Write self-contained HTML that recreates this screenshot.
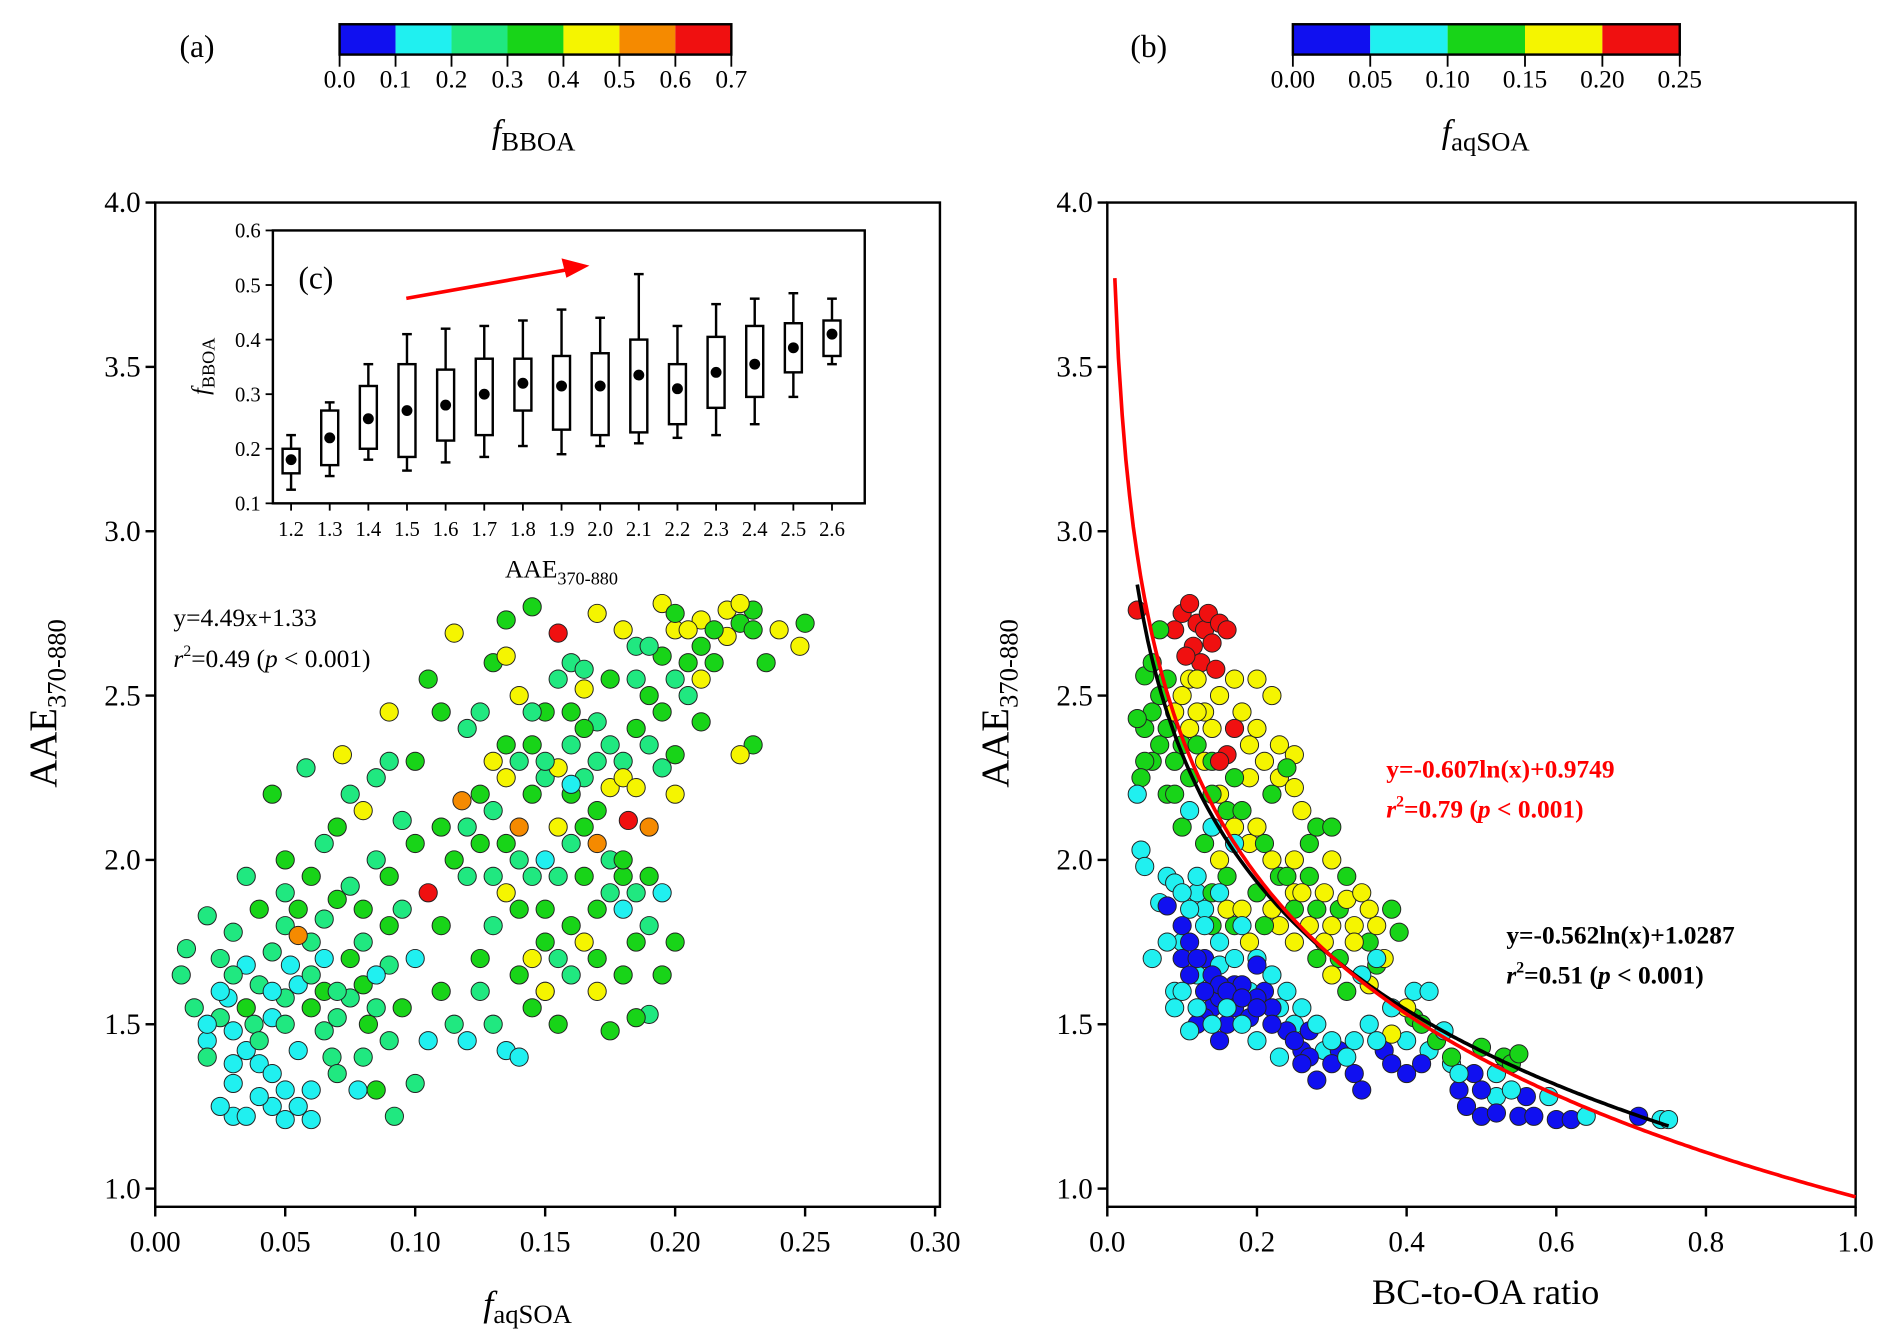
<!DOCTYPE html>
<html><head><meta charset="utf-8"><style>
html,body{margin:0;padding:0;background:#fff;overflow:hidden}
svg{display:block;font-family:"Liberation Serif",serif}
</style></head><body>
<svg id="fig" width="1892" height="1339" viewBox="0 0 1560 1104" preserveAspectRatio="none" xmlns="http://www.w3.org/2000/svg">
<g id="root"></g>
</svg>
<script>
// ---- data ----
const cbA_ticks = ["0.0","0.1","0.2","0.3","0.4","0.5","0.6","0.7"];
const cbA_colors = ["#1010f0","#20f0f0","#20e880","#18d418","#f5f500","#f58a00","#f01010"];
const cbB_ticks = ["0.00","0.05","0.10","0.15","0.20","0.25"];
const cbB_colors = ["#1010f0","#20f0f0","#18d418","#f5f500","#f01010"];
const leftX = [0.03,0.035,0.05,0.06,0.025,0.04,0.045,0.03,0.02,0.015,0.02,0.025,0.03,0.035,0.04,0.045,0.05,0.055,0.06,0.065,0.07,0.075,0.08,0.085,0.09,0.01,0.012,0.02,0.03,0.04,0.05,0.055,0.06,0.065,0.07,0.075,0.08,0.085,0.09,0.058,0.072,0.045,0.05,0.035,0.025,0.06,0.07,0.08,0.085,0.09,0.095,0.092,0.1,0.1,0.105,0.11,0.115,0.12,0.105,0.11,0.115,0.12,0.125,0.118,0.13,0.135,0.14,0.13,0.135,0.145,0.155,0.16,0.17,0.18,0.185,0.19,0.195,0.2,0.21,0.215,0.22,0.225,0.23,0.235,0.24,0.25,0.248,0.23,0.225,0.21,0.2,0.205,0.195,0.2,0.2,0.19,0.18,0.175,0.165,0.16,0.155,0.15,0.145,0.14,0.135,0.13,0.125,0.13,0.135,0.14,0.145,0.15,0.155,0.16,0.165,0.17,0.175,0.18,0.185,0.19,0.195,0.2,0.195,0.19,0.185,0.175,0.17,0.165,0.155,0.15,0.145,0.12,0.11,0.1,0.105,0.115,0.125,0.09,0.095,0.15,0.16,0.185,0.18,0.17,0.14,0.135,0.145,0.175,0.19,0.182,0.165,0.205,0.21];
const leftY = [1.22,1.22,1.21,1.21,1.25,1.28,1.35,1.38,1.4,1.55,1.5,1.6,1.65,1.55,1.45,1.6,1.5,1.42,1.55,1.48,1.6,1.7,1.75,1.65,1.8,1.65,1.73,1.83,1.78,1.85,1.9,1.77,1.95,2.05,2.1,2.2,2.15,2.25,2.3,2.28,2.32,2.2,2.0,1.95,1.7,1.3,1.35,1.4,1.3,1.45,1.55,1.22,1.32,1.7,1.9,1.6,1.5,1.45,1.45,1.8,2.0,2.1,2.2,2.18,2.3,2.35,2.5,2.6,2.73,2.77,2.69,2.6,2.75,2.7,2.55,2.5,2.78,2.75,2.73,2.7,2.76,2.78,2.7,2.6,2.7,2.72,2.65,2.35,2.32,2.42,2.55,2.6,2.45,2.32,2.2,2.1,2.25,2.35,2.4,2.2,2.1,2.3,2.2,2.0,1.9,1.8,1.7,1.5,1.42,1.4,1.55,1.6,1.7,1.8,1.95,2.05,1.9,1.85,1.75,1.8,1.9,1.75,1.65,1.53,1.52,1.48,1.6,1.75,1.5,1.6,1.7,2.4,2.45,2.3,2.55,2.69,2.45,2.45,2.12,2.0,2.23,2.22,2.0,2.15,2.1,2.62,2.45,2.55,2.65,2.12,2.58,2.7,2.55];
const leftC = [1,1,1,1,1,1,1,1,2,2,1,1,2,3,2,1,2,1,3,2,2,3,2,1,3,2,2,2,2,3,2,5,3,2,3,2,4,2,2,2,4,3,3,2,2,1,2,2,3,2,3,2,2,1,6,3,2,1,1,3,3,2,3,5,4,3,4,3,3,3,6,2,4,4,2,3,4,3,4,3,4,4,3,3,4,3,4,3,4,3,2,3,3,3,4,5,4,2,3,3,4,2,3,2,4,2,3,2,1,1,3,4,2,3,3,5,2,1,3,2,1,3,3,2,3,3,4,4,3,4,4,2,3,3,3,4,2,4,2,1,1,4,3,3,5,4,2,3,2,6,2,4,4];
const leftX2 = [0.02,0.025,0.03,0.035,0.04,0.045,0.05,0.055,0.06,0.065, 0.07,0.075,0.08,0.085,0.09,0.035,0.04,0.045,0.05,0.055, 0.06,0.065,0.07,0.075,0.08,0.085,0.09,0.095,0.1,0.065, 0.03,0.05,0.055,0.045,0.038,0.028,0.052,0.068,0.078,0.082, 0.12,0.125,0.13,0.135,0.14,0.145,0.15,0.155,0.16,0.165, 0.17,0.175,0.18,0.185,0.19,0.195,0.15,0.155,0.16,0.165, 0.17,0.13,0.135,0.14,0.145,0.15,0.155,0.16,0.165,0.17, 0.175,0.18,0.185,0.19,0.14,0.15,0.16,0.17,0.18,0.125, 0.21,0.215,0.22,0.2,0.195,0.225,0.23,0.185,0.205,0.11];
const leftY2 = [1.45,1.52,1.48,1.42,1.38,1.52,1.58,1.62,1.65,1.6, 1.52,1.58,1.62,1.55,1.68,1.68,1.62,1.72,1.8,1.85, 1.75,1.82,1.88,1.92,1.85,2.0,1.95,1.85,2.05,1.7, 1.32,1.3,1.25,1.25,1.5,1.58,1.68,1.4,1.3,1.5, 1.95,2.05,2.15,2.25,2.3,2.35,2.25,2.28,2.35,2.25, 2.3,2.22,2.3,2.4,2.35,2.28,2.45,2.55,2.45,2.52, 2.42,1.95,2.05,1.85,1.95,1.85,1.95,2.05,2.1,1.85, 2.0,1.95,1.9,1.95,1.65,1.75,1.65,1.7,1.65,1.6, 2.65,2.6,2.68,2.7,2.62,2.72,2.76,2.65,2.5,2.1];
const leftC2 = [1,2,1,1,1,1,2,1,2,3, 2,2,3,2,2,1,2,2,2,3, 2,2,3,2,3,2,3,2,3,1, 1,1,1,1,2,1,1,2,1,3, 2,3,2,4,2,3,2,4,2,2, 2,4,2,3,2,2,3,2,3,4, 2,2,3,3,2,3,2,2,3,3, 2,3,2,3,3,3,2,3,3,2, 3,3,4,4,3,3,3,2,2,3];
const rightX = [0.1,0.11,0.12,0.13,0.115,0.125,0.14,0.09,0.105,0.135,0.15,0.16,0.145,0.17,0.16,0.04,0.12,0.15,0.04,0.05,0.05,0.045,0.07,0.08,0.06,0.07,0.1,0.12,0.14,0.15,0.2,0.22,0.2,0.23,0.25,0.25,0.24,0.22,0.19,0.17,0.14,0.11,0.09,0.1,0.2,0.25,0.28,0.3,0.3,0.32,0.34,0.35,0.38,0.39,0.37,0.33,0.3,0.28,0.26,0.24,0.22,0.2,0.18,0.16,0.15,0.13,0.12,0.14,0.25,0.28,0.3,0.32,0.35,0.4,0.42,0.44,0.5,0.55,0.38,0.04,0.045,0.05,0.08,0.09,0.1,0.07,0.06,0.08,0.1,0.11,0.12,0.14,0.15,0.16,0.18,0.13,0.12,0.16,0.19,0.2,0.22,0.25,0.27,0.3,0.33,0.34,0.28,0.38,0.4,0.42,0.47,0.48,0.5,0.52,0.55,0.57,0.6,0.62,0.71,0.56,0.5,0.13,0.15,0.17,0.2,0.22,0.24,0.26,0.28,0.3,0.32,0.36,0.38,0.41,0.43,0.45,0.47,0.52,0.54,0.59,0.64,0.74,0.75,0.1,0.12,0.14,0.16,0.18,0.2,0.23,0.15,0.17,0.11,0.14,0.18,0.36,0.34,0.09,0.11,0.2,0.26];
const rightY = [2.75,2.78,2.72,2.7,2.65,2.6,2.66,2.7,2.62,2.75,2.72,2.7,2.58,2.4,2.32,2.76,2.55,2.3,2.43,2.56,2.3,2.25,2.5,2.4,2.6,2.7,2.5,2.45,2.4,2.5,2.55,2.5,2.4,2.35,2.32,2.22,2.28,2.2,2.25,2.25,2.2,2.25,2.2,2.1,2.1,2.0,2.1,2.1,2.0,1.95,1.9,1.85,1.85,1.78,1.7,1.75,1.8,1.85,1.9,1.95,1.85,1.9,1.85,1.95,2.0,2.05,1.95,1.9,1.75,1.7,1.65,1.6,1.62,1.55,1.5,1.45,1.43,1.41,1.47,2.2,2.03,1.98,1.95,1.93,1.9,1.87,1.7,1.86,1.8,1.75,1.7,1.65,1.62,1.6,1.58,1.6,1.5,1.5,1.52,1.55,1.5,1.45,1.4,1.38,1.35,1.3,1.33,1.38,1.35,1.38,1.3,1.25,1.22,1.23,1.22,1.22,1.21,1.21,1.22,1.28,1.3,1.8,1.75,1.7,1.7,1.65,1.6,1.55,1.5,1.45,1.4,1.45,1.55,1.6,1.6,1.48,1.35,1.35,1.3,1.28,1.22,1.21,1.21,1.6,1.55,1.5,1.55,1.5,1.45,1.4,1.9,2.05,2.15,2.1,1.8,1.7,1.65,1.55,1.48,1.68,1.38];
const rightC = [4,4,4,4,4,4,4,4,4,4,4,4,4,4,4,4,3,4,2,2,2,2,2,2,2,2,3,3,3,3,3,3,3,3,3,3,2,2,3,2,2,2,2,2,3,3,2,2,3,2,3,3,2,2,3,3,3,2,3,2,3,2,3,2,3,2,1,2,3,2,3,2,3,3,2,2,2,2,3,1,1,1,1,1,1,1,1,0,0,0,0,0,0,0,0,0,0,0,0,0,0,0,0,0,0,0,0,0,0,0,0,0,0,0,0,0,0,0,0,0,0,1,1,1,1,1,1,1,1,1,1,1,1,1,1,1,1,1,1,1,1,1,1,1,1,1,1,1,1,1,1,1,1,1,1,1,1,1,1,0,0,1];
const rightX2 = [0.06,0.08,0.09,0.1,0.11,0.12,0.13,0.14,0.15,0.16, 0.17,0.18,0.19,0.21,0.22,0.23,0.25,0.27,0.29,0.31, 0.33,0.35,0.36,0.31,0.29,0.27,0.25,0.23,0.21,0.19, 0.17,0.16,0.14,0.13,0.12,0.11,0.1,0.12,0.13,0.15, 0.17,0.19,0.21,0.23,0.25,0.27,0.29,0.31,0.33,0.35, 0.37,0.4,0.43,0.46,0.49,0.52,0.53,0.54,0.46,0.41, 0.14,0.15,0.17,0.18,0.2,0.22,0.24,0.26,0.15,0.13, 0.11,0.1,0.09,0.08,0.08,0.09,0.07,0.06,0.05,0.11, 0.13,0.17,0.18,0.19,0.21,0.23,0.26,0.27,0.32,0.36];
const rightY2 = [2.45,2.55,2.45,2.35,2.4,2.35,2.3,2.3,2.2,2.15, 2.1,2.15,2.05,2.05,2.0,1.95,1.9,1.95,1.9,1.85, 1.8,1.75,1.8,1.7,1.75,1.8,1.85,1.8,1.8,1.75, 1.8,1.85,1.8,1.85,1.9,1.85,1.75,1.65,1.7,1.68, 1.62,1.6,1.6,1.55,1.5,1.48,1.42,1.42,1.45,1.5, 1.42,1.45,1.42,1.38,1.35,1.28,1.4,1.38,1.4,1.52, 1.55,1.58,1.55,1.62,1.58,1.55,1.48,1.42,1.45,1.52, 1.65,1.7,1.6,1.75,2.2,2.3,2.35,2.3,2.4,2.55, 2.45,2.55,2.45,2.35,2.3,2.25,2.15,2.05,1.88,1.68];
const rightC2 = [2,2,3,2,3,2,3,2,3,2, 3,2,3,2,3,2,3,2,3,2, 3,2,3,2,3,3,2,3,2,3, 2,3,2,1,1,1,1,1,0,1, 0,1,0,1,1,0,1,0,1,1, 0,1,1,1,0,1,2,2,2,2, 0,0,0,0,0,0,0,0,0,0, 0,0,1,1,2,2,2,2,2,3, 3,3,3,3,3,3,3,2,3,2];
const boxCats = [1.2,1.3,1.4,1.5,1.6,1.7,1.8,1.9,2.0,2.1,2.2,2.3,2.4,2.5,2.6];
const boxLow  = [0.125,0.15,0.18,0.16,0.175,0.185,0.205,0.19,0.205,0.21,0.22,0.225,0.245,0.295,0.355];
const boxQ1   = [0.155,0.17,0.2,0.185,0.215,0.225,0.27,0.235,0.225,0.23,0.245,0.275,0.295,0.34,0.37];
const boxMean = [0.18,0.22,0.255,0.27,0.28,0.3,0.32,0.315,0.315,0.335,0.31,0.34,0.355,0.385,0.41];
const boxQ3   = [0.2,0.27,0.315,0.355,0.345,0.365,0.365,0.37,0.375,0.4,0.355,0.405,0.425,0.43,0.435];
const boxHigh = [0.225,0.285,0.355,0.41,0.42,0.425,0.435,0.455,0.44,0.52,0.425,0.465,0.475,0.485,0.475];
const redFit = [-0.607, 0.9749];
const blackFit = [-0.562, 1.0287];

// ---- drawing ----
const NS="http://www.w3.org/2000/svg";
const root=document.getElementById('root');
function el(tag,attrs,parent,text){const e=document.createElementNS(NS,tag);for(const k in attrs)e.setAttribute(k,attrs[k]);if(text!==undefined)e.textContent=text;(parent||root).appendChild(e);return e;}
const yA=v=>980-(v-1)*(980-167)/3;
const xL=v=>128+v*(771-128)/0.3;
const xR=v=>913+v*(1530-913);
const yIn=v=>415-(v-0.1)*(415-190)/0.5;
const xIn=v=>240+(v-1.2)*(686-240)/1.4;

function colorbar(x0,w,colors,ticks,label,lx,name){
  const g=el('g',{});  
  const cw=w/colors.length;
  colors.forEach((c,i)=>{const r=el('rect',{x:x0+i*cw,y:20,width:cw,height:25,fill:c},g);});
  el('rect',{x:x0,y:20,width:w,height:25,fill:'none',stroke:'#000','stroke-width':2},g);
  const tw=w/(ticks.length-1);
  ticks.forEach((t,i)=>{el('line',{x1:x0+i*tw,x2:x0+i*tw,y1:45,y2:55,stroke:'#000','stroke-width':1.5},g);
    const tx=el('text',{x:x0+i*tw,y:72,'font-size':21,'text-anchor':'middle'},g,t);});
  const lt=el('text',{x:lx,y:118,'font-size':28,'text-anchor':'middle'},g);
  
  lt.innerHTML='<tspan font-style="italic">f</tspan><tspan font-size="22" dy="6">'+label+'</tspan>';
}
colorbar(280,323,cbA_colors,cbA_ticks,'BBOA',440,'colorbar-fbboa');
colorbar(1066,319,cbB_colors,cbB_ticks,'aqSOA',1225,'colorbar-faqsoa');
let t=el('text',{x:148,y:47,'font-size':26},root,'(a)');
t=el('text',{x:932,y:47,'font-size':26},root,'(b)');

function frame(x0,x1,xt,xs,xlabels,name){
  const f=el('rect',{x:x0,y:167,width:x1-x0,height:828,fill:'none',stroke:'#000','stroke-width':2});
  
  [1.0,1.5,2.0,2.5,3.0,3.5,4.0].forEach(v=>{el('line',{x1:x0-8,x2:x0,y1:yA(v),y2:yA(v),stroke:'#000','stroke-width':2});
    const tt=el('text',{x:x0-12,y:yA(v)+8,'font-size':24,'text-anchor':'end'},root,v.toFixed(1));});
  xt.forEach((v,i)=>{const X=xs(v);el('line',{x1:X,x2:X,y1:995,y2:1003,stroke:'#000','stroke-width':2});
    const tt=el('text',{x:X,y:1032,'font-size':24,'text-anchor':'middle'},root,xlabels[i]);});
  const yl=el('text',{transform:`translate(${x0-82},580) rotate(-90)`,'font-size':32,'text-anchor':'middle'});
  
  yl.innerHTML='AAE<tspan font-size="22" dy="8">370-880</tspan>';
}
frame(128,775,[0,0.05,0.1,0.15,0.2,0.25,0.3],xL,["0.00","0.05","0.10","0.15","0.20","0.25","0.30"],'left-plot-frame');
frame(913,1530,[0,0.2,0.4,0.6,0.8,1.0],xR,["0.0","0.2","0.4","0.6","0.8","1.0"],'right-plot-frame');
let xt=el('text',{x:435,y:1085,'font-size':30,'text-anchor':'middle'});
xt.innerHTML='<tspan font-style="italic">f</tspan><tspan font-size="22" dy="6">aqSOA</tspan>';
xt=el('text',{x:1225,y:1075,'font-size':30,'text-anchor':'middle'},root,'BC-to-OA ratio');

const R=7.5;
// scatter left
const gl=el('g',{});
function drawPts(g,xs,ys,cs,xf,cols){xs.forEach((x,i)=>{const c=el('circle',{cx:xf(x),cy:yA(ys[i]),r:R,fill:cols[cs[i]]||cols[2],stroke:'#222','stroke-width':0.8},g);
  
  });}
drawPts(gl,leftX2,leftY2,leftC2,xL,cbA_colors);
drawPts(gl,leftX,leftY,leftC,xL,cbA_colors);
// scatter right
const gr=el('g',{});
drawPts(gr,rightX2,rightY2,rightC2,xR,cbB_colors);
drawPts(gr,rightX,rightY,rightC,xR,cbB_colors);
// fits
function fit(p,a,b,col,name){let d='';for(let i=0;i<=200;i++){const x=a+(b-a)*i/200;const y=p[0]*Math.log(x)+p[1];d+=(i?'L':'M')+xR(x).toFixed(1)+','+yA(y).toFixed(1);}
  const l=el('path',{d:d,fill:'none',stroke:col,'stroke-width':3});}
fit(blackFit,0.04,0.75,'#000','black-fit-line');
fit(redFit,0.01,1.0,'#f00','red-fit-line');
t=el('text',{x:1143,y:641,'font-size':21,'font-weight':'bold',fill:'#f00'},root,'y=-0.607ln(x)+0.9749');
t=el('text',{x:1143,y:674,'font-size':21,'font-weight':'bold',fill:'#f00'});
t.innerHTML='<tspan font-style="italic">r</tspan><tspan font-size="13" dy="-9">2</tspan><tspan dy="9">=0.79 (</tspan><tspan font-style="italic">p</tspan> &lt; 0.001)';
t=el('text',{x:1242,y:778,'font-size':21,'font-weight':'bold'},root,'y=-0.562ln(x)+1.0287');
t=el('text',{x:1242,y:811,'font-size':21,'font-weight':'bold'});
t.innerHTML='<tspan font-style="italic">r</tspan><tspan font-size="13" dy="-9">2</tspan><tspan dy="9">=0.51 (</tspan><tspan font-style="italic">p</tspan> &lt; 0.001)';
t=el('text',{x:143,y:516,'font-size':21},root,'y=4.49x+1.33');
t=el('text',{x:143,y:550,'font-size':21});
t.innerHTML='<tspan font-style="italic">r</tspan><tspan font-size="13" dy="-9">2</tspan><tspan dy="9">=0.49 (</tspan><tspan font-style="italic">p</tspan> &lt; 0.001)';

// inset
const gi=el('g',{});
el('rect',{x:225,y:190,width:488,height:225,fill:'#fff',stroke:'#000','stroke-width':2},gi);
[0.1,0.2,0.3,0.4,0.5,0.6].forEach(v=>{el('line',{x1:219,x2:225,y1:yIn(v),y2:yIn(v),stroke:'#000','stroke-width':1.5},gi);
  const tt=el('text',{x:215,y:yIn(v)+6,'font-size':17,'text-anchor':'end'},gi,v.toFixed(1));});
boxCats.forEach((c,i)=>{const X=xIn(c);
  el('line',{x1:X,x2:X,y1:415,y2:421,stroke:'#000','stroke-width':1.5},gi);
  const tt=el('text',{x:X,y:442,'font-size':17,'text-anchor':'middle'},gi,c.toFixed(1));
  const b=el('g',{},gi);
  el('line',{x1:X,x2:X,y1:yIn(boxHigh[i]),y2:yIn(boxQ3[i]),stroke:'#000','stroke-width':2},b);
  el('line',{x1:X,x2:X,y1:yIn(boxQ1[i]),y2:yIn(boxLow[i]),stroke:'#000','stroke-width':2},b);
  el('line',{x1:X-4,x2:X+4,y1:yIn(boxHigh[i]),y2:yIn(boxHigh[i]),stroke:'#000','stroke-width':2},b);
  el('line',{x1:X-4,x2:X+4,y1:yIn(boxLow[i]),y2:yIn(boxLow[i]),stroke:'#000','stroke-width':2},b);
  el('rect',{x:X-7,y:yIn(boxQ3[i]),width:14,height:yIn(boxQ1[i])-yIn(boxQ3[i]),fill:'#fff',stroke:'#000','stroke-width':2},b);
  el('circle',{cx:X,cy:yIn(boxMean[i]),r:4.5,fill:'#000'},b);
});
t=el('text',{x:246,y:238,'font-size':26},gi,'(c)');
el('line',{x1:335,y1:246,x2:470,y2:222,stroke:'#f00','stroke-width':3},gi);
const ar=el('polygon',{points:'486,219 463,213 467,229',fill:'#f00'},gi);
t=el('text',{transform:'translate(172,302) rotate(-90)','font-size':20,'text-anchor':'middle'},gi);
t.innerHTML='<tspan font-style="italic">f</tspan><tspan font-size="15" dy="5">BBOA</tspan>';
t=el('text',{x:463,y:476,'font-size':21,'text-anchor':'middle'},gi);
t.innerHTML='AAE<tspan font-size="15" dy="6">370-880</tspan>';
</script>
</body></html>
